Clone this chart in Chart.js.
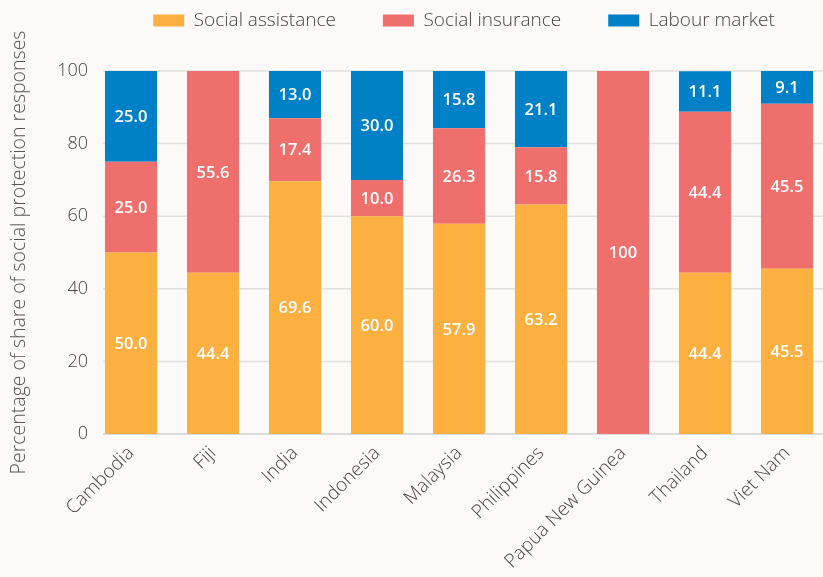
<!DOCTYPE html>
<html>
<head>
<meta charset="utf-8">
<script src="https://cdn.jsdelivr.net/npm/chart.js@4/dist/chart.umd.min.js"></script>
<style>
  html, body { margin: 0; padding: 0; background: #fbfaf8; overflow: hidden; }
  #wrap { width: 823px; height: 577px; position: relative; overflow: hidden; }
  #c { display: block; }
</style>
</head>
<body>
<div id="wrap"><canvas id="c" width="828" height="577"></canvas></div>
<script>
const categories = ["Cambodia", "Fiji", "India", "Indonesia", "Malaysia", "Philippines", "Papua New Guinea", "Thailand", "Viet Nam"];
const socialAssistance = [50.0, 44.4, 69.6, 60.0, 57.9, 63.2, 0, 44.4, 45.5];
const socialInsurance = [25.0, 55.6, 17.4, 10.0, 26.3, 15.8, 100, 44.4, 45.5];
const labourMarket = [25.0, 0, 13.0, 30.0, 15.8, 21.1, 0, 11.1, 9.1];
const yTicks = [0, 20, 40, 60, 80, 100];

const FONT = "'Open Sans', 'DejaVu Sans', sans-serif";
const LEGEND_BLOCK = 71;     // legend block height (px) above the plot
const LEGEND_SHIFT = -36;    // moves legend row up inside its block
const LEGEND_XSHIFT = 5;
const GRID_START = 103;

const bgPlugin = {
  id: 'bg',
  beforeDraw(chart) {
    const ctx = chart.ctx;
    ctx.save();
    ctx.fillStyle = '#fbfaf8';
    ctx.fillRect(0, 0, chart.width, chart.height);
    ctx.restore();
  }
};

const legendFitPlugin = {
  id: 'legendFit',
  beforeLayout(chart) {
    const lg = chart.legend;
    if (lg && !lg._patched) {
      const orig = lg.fit.bind(lg);
      lg.fit = function () { orig(); this.height = LEGEND_BLOCK - LEGEND_SHIFT; };
      lg._patched = true;
    }
  },
  afterLayout(chart) {
    const lg = chart.legend;
    if (lg) { lg.left += LEGEND_XSHIFT; lg.right += LEGEND_XSHIFT; }
  }
};

// horizontal grid lines drawn from the y scale's tick positions
const gridPlugin = {
  id: 'hgrid',
  beforeDatasetsDraw(chart) {
    const ctx = chart.ctx;
    const ys = chart.scales.y;
    ctx.save();
    ctx.strokeStyle = '#e0e0e0';
    ctx.lineWidth = 1.5;
    ys.ticks.forEach(t => {
      if (t.value === 0) return;
      const y = ys.getPixelForValue(t.value);
      ctx.beginPath();
      ctx.moveTo(GRID_START, y);
      ctx.lineTo(chart.width, y);
      ctx.stroke();
    });
    const y0 = ys.getPixelForValue(0);
    ctx.strokeStyle = '#dcdcdc';
    ctx.lineWidth = 2;
    ctx.beginPath();
    ctx.moveTo(GRID_START, y0);
    ctx.lineTo(chart.width, y0);
    ctx.stroke();
    ctx.restore();
  }
};

const labelPlugin = {
  id: 'segLabels',
  afterDatasetsDraw(chart) {
    const ctx = chart.ctx;
    ctx.save();
    ctx.fillStyle = '#ffffff';
    ctx.font = "600 16.5px " + FONT;
    ctx.textAlign = 'center';
    ctx.textBaseline = 'middle';
    chart.data.datasets.forEach((ds, di) => {
      const meta = chart.getDatasetMeta(di);
      meta.data.forEach((el, i) => {
        const v = ds.data[i];
        if (!v) return;
        const txt = v === 100 ? '100' : v.toFixed(1);
        ctx.fillText(txt, el.x, (el.y + el.base) / 2 + 1);
      });
    });
    ctx.restore();
  }
};

new Chart(document.getElementById('c'), {
  type: 'bar',
  data: {
    labels: categories,
    datasets: [
      { label: 'Social assistance', data: socialAssistance, backgroundColor: '#fbb040' },
      { label: 'Social insurance', data: socialInsurance, backgroundColor: '#ef6f6d' },
      { label: 'Labour market', data: labourMarket, backgroundColor: '#0080c6' }
    ]
  },
  options: {
    responsive: false,
    animation: false,
    devicePixelRatio: 1,
    layout: { padding: { top: LEGEND_SHIFT, right: 0, bottom: 0, left: 0 } },
    datasets: { bar: { barPercentage: 0.635, categoryPercentage: 1.0 } },
    plugins: {
      legend: {
        position: 'top',
        fullSize: false,
        labels: {
          boxWidth: 31,
          boxHeight: 12,
          padding: 47,
          color: '#444',
          font: { family: FONT, size: 19, weight: '300' }
        }
      },
      tooltip: { enabled: false }
    },
    scales: {
      x: {
        stacked: true,
        afterFit(scale) { scale.height = 143; },
        grid: { display: false, drawTicks: false },
        border: { display: false },
        ticks: {
          maxRotation: 45, minRotation: 45,
          padding: 8,
          color: '#444',
          font: { family: FONT, size: 19, weight: '300' }
        }
      },
      y: {
        stacked: true,
        min: 0, max: 100,
        afterFit(scale) { scale.width = 90; },
        afterBuildTicks(scale) { scale.ticks = yTicks.map(v => ({ value: v })); },
        grid: { display: false, drawTicks: false },
        border: { display: false },
        ticks: {
          padding: 2,
          color: '#444',
          font: { family: FONT, size: 18, weight: '300' }
        },
        title: {
          display: true,
          text: 'Percentage of share of social protection responses',
          color: '#555',
          padding: { top: 8, bottom: 0 },
          font: { family: FONT, size: 19.5, weight: '300' }
        }
      }
    }
  },
  plugins: [bgPlugin, legendFitPlugin, gridPlugin, labelPlugin]
});
</script>
</body>
</html>
